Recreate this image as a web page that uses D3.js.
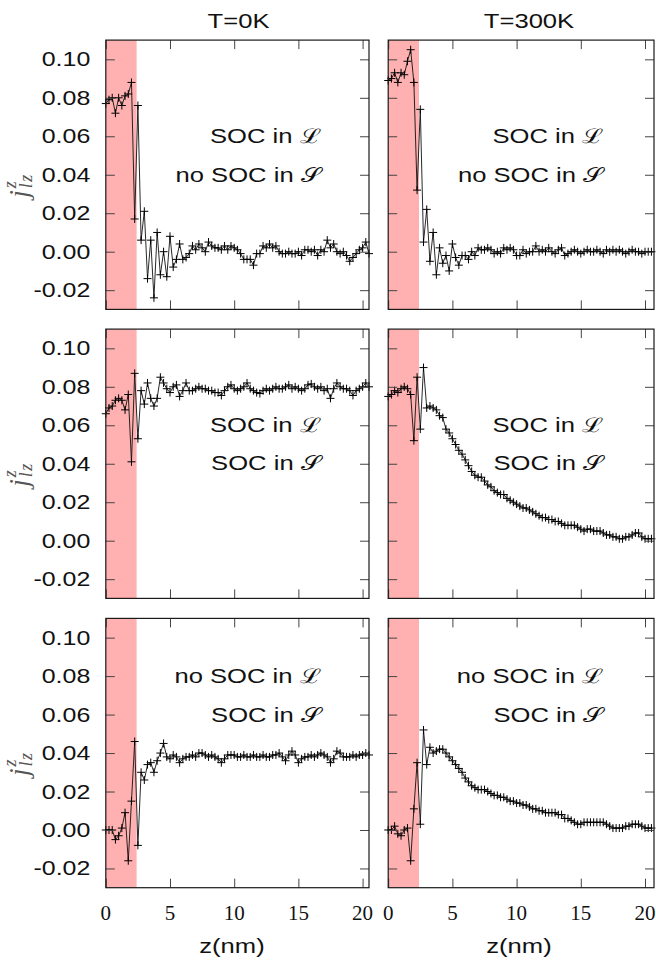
<!DOCTYPE html>
<html><head><meta charset="utf-8">
<script src="https://cdn.jsdelivr.net/npm/d3@7"></script>
<style>body{margin:0;background:#fff}</style>
</head><body><svg id="c" width="656" height="960"></svg>
<script>
// ---------------- data ----------------
const z = [0,0.25,0.5,0.75,1,1.25,1.5,1.75,2,2.25,2.5,2.75,3,3.25,3.5,3.75,4,4.25,4.5,4.75,
  5,5.25,5.5,5.75,6,6.25,6.5,6.75,7,7.25,7.5,7.75,8,8.25,8.5,8.75,9,9.25,9.5,9.75,
  10,10.25,10.5,10.75,11,11.25,11.5,11.75,12,12.25,12.5,12.75,13,13.25,13.5,13.75,14,14.25,14.5,14.75,
  15,15.25,15.5,15.75,16,16.25,16.5,16.75,17,17.25,17.5,17.75,18,18.25,18.5,18.75,19,19.25,19.5,19.75,
  20,20.25,20.5];

// T=0K, SOC in L, no SOC in S
const jSocL_0K = [0.077,0.079,0.080,0.072,0.080,0.076,0.081,0.082,0.088,0.017,0.076,0.006,0.021,-0.014,0.006,-0.024,0.010,-0.012,0.000,-0.013,
  0.008,-0.008,-0.004,0.004,-0.004,-0.003,-0.001,0.003,0.001,0.004,0.002,0.000,0.005,0.003,0.002,0.002,0.001,0.003,0.001,0.003,
  0.002,0.001,-0.001,-0.004,-0.004,-0.004,-0.007,-0.001,-0.001,0.003,0.002,0.004,0.002,0.003,0.000,-0.001,-0.001,0.000,-0.001,-0.001,
  0.000,-0.002,0.001,0.001,0.000,0.001,-0.002,0.001,0.000,0.006,0.002,0.004,0.000,-0.001,0.000,-0.002,-0.005,-0.003,-0.001,0.001,
  0.002,0.005,-0.001];
// T=300K, SOC in L, no SOC in S
const jSocL_300K = [0.089,0.090,0.093,0.088,0.093,0.092,0.099,0.105,0.088,0.032,0.074,0.005,0.022,-0.005,0.010,-0.012,0.002,-0.006,-0.002,-0.010,
  0.004,-0.003,-0.007,-0.002,-0.002,-0.004,0.000,-0.002,0.002,0.001,0.001,0.002,0.001,-0.001,0.000,-0.001,0.002,0.001,0.002,0.001,
  -0.002,-0.002,0.001,-0.001,0.000,0.000,0.003,0.000,0.001,0.000,0.002,0.000,-0.001,0.001,0.002,-0.002,-0.001,0.000,0.001,0.000,
  -0.001,0.000,0.001,0.000,0.000,0.001,0.000,-0.001,0.001,0.000,0.001,0.000,0.001,0.000,-0.001,0.000,0.001,0.000,0.000,-0.001,
  0.000,0.000,0.000];
// T=0K, SOC in L and S
const jSocLS_0K = [0.066,0.069,0.070,0.073,0.074,0.073,0.068,0.076,0.041,0.087,0.053,0.078,0.071,0.082,0.074,0.070,0.074,0.085,0.082,0.079,
  0.077,0.080,0.081,0.075,0.078,0.082,0.078,0.078,0.079,0.080,0.079,0.079,0.078,0.078,0.077,0.077,0.0755,0.078,0.080,0.081,
  0.079,0.078,0.079,0.080,0.082,0.079,0.078,0.077,0.0765,0.078,0.079,0.078,0.079,0.080,0.079,0.079,0.080,0.081,0.079,0.080,
  0.079,0.078,0.079,0.081,0.0815,0.080,0.079,0.080,0.078,0.079,0.074,0.079,0.082,0.080,0.079,0.079,0.078,0.0755,0.078,0.079,
  0.080,0.082,0.080];
// T=300K, SOC in L and S
const jSocLS_300K = [0.075,0.076,0.078,0.077,0.079,0.080,0.079,0.076,0.052,0.085,0.058,0.090,0.069,0.070,0.069,0.068,0.065,0.064,0.058,0.056,
  0.053,0.050,0.047,0.045,0.042,0.039,0.036,0.034,0.033,0.033,0.031,0.029,0.028,0.026,0.025,0.024,0.024,0.022,0.021,0.020,
  0.019,0.018,0.017,0.017,0.016,0.015,0.014,0.013,0.012,0.012,0.011,0.011,0.010,0.010,0.009,0.008,0.008,0.008,0.008,0.007,
  0.006,0.005,0.006,0.006,0.005,0.005,0.005,0.004,0.003,0.003,0.002,0.002,0.001,0.001,0.002,0.002,0.003,0.004,0.004,0.002,
  0.001,0.001,0.001];
// T=0K, no SOC in L, SOC in S
const jSocS_0K = [0.000,0.000,0.000,-0.005,-0.003,0.001,0.009,-0.016,0.015,0.046,-0.008,0.030,0.026,0.034,0.035,0.030,0.036,0.040,0.045,0.038,
  0.037,0.039,0.038,0.035,0.037,0.038,0.038,0.039,0.038,0.040,0.040,0.039,0.038,0.039,0.038,0.037,0.035,0.037,0.039,0.039,
  0.039,0.038,0.038,0.039,0.038,0.038,0.039,0.038,0.038,0.039,0.038,0.038,0.039,0.039,0.040,0.038,0.036,0.039,0.041,0.039,
  0.035,0.037,0.038,0.038,0.039,0.038,0.039,0.040,0.039,0.038,0.035,0.037,0.041,0.040,0.038,0.038,0.038,0.039,0.038,0.039,
  0.039,0.040,0.039];
// T=300K, no SOC in L, SOC in S
const jSocS_300K = [0.000,0.000,0.002,-0.002,-0.003,0.000,0.001,-0.016,0.011,0.035,0.003,0.052,0.034,0.043,0.040,0.041,0.042,0.042,0.040,0.038,
  0.036,0.034,0.032,0.030,0.027,0.025,0.023,0.022,0.021,0.021,0.021,0.020,0.019,0.018,0.018,0.017,0.017,0.016,0.015,0.015,
  0.014,0.014,0.013,0.013,0.012,0.011,0.011,0.010,0.010,0.009,0.009,0.009,0.009,0.008,0.008,0.006,0.006,0.005,0.004,0.003,
  0.003,0.004,0.004,0.004,0.004,0.004,0.004,0.004,0.003,0.002,0.001,0.001,0.001,0.001,0.002,0.002,0.003,0.003,0.003,0.002,
  0.001,0.001,0.001];

const columnTitles = ["T=0K", "T=300K"];
const rowNotes = [["SOC in \u2112", "no SOC in \uD835\uDCAE"],
                  ["SOC in \u2112", "SOC in \uD835\uDCAE"],
                  ["no SOC in \u2112", "SOC in \uD835\uDCAE"]];
const yTickValues = [-0.02, 0, 0.02, 0.04, 0.06, 0.08, 0.10];
const yTickLabels = ["-0.02", "0.00", "0.02", "0.04", "0.06", "0.08", "0.10"];
const xTickValues = [0, 5, 10, 15, 20];
const xTickLabels = ["0", "5", "10", "15", "20"];
const leadRegion = [0, 2.4];
const xLabel = "z(nm)";

const panelSeries = [[jSocL_0K, jSocL_300K], [jSocLS_0K, jSocLS_300K], [jSocS_0K, jSocS_300K]];

// ---------------- layout ----------------
const cols = [{x0: 105.8, x1: 369, zmax: 20.5, titleX: 238.5, labelX: 232},
              {x0: 388.2, x1: 654, zmax: 20.7, titleX: 529, labelX: 519}];
const rows = [{top: 40.1, bottom: 309.4, note: [-109, -70]},
              {top: 329.1, bottom: 598.4, note: [-109, -70.5]},
              {top: 618.4, bottom: 887.7, note: [-147, -108]}];
const SX = 1.28; // horizontal stretch of the sans text in the reference
const sans = "'Liberation Sans', Arial, Helvetica, sans-serif";
const serif = "'Liberation Serif', 'Times New Roman', serif";

const svg = d3.select("#c");

rows.forEach((r, ri) => {
  cols.forEach((c, ci) => {
    const x = d3.scaleLinear().domain([0, c.zmax]).range([c.x0, c.x1]);
    const y = d3.scaleLinear().domain([-0.03, 0.11]).range([r.bottom, r.top]);
    const g = svg.append("g");
    const vals = panelSeries[ri][ci];
    const pts = z.map((d, i) => [d, vals[i]]);

    // lead region band
    g.append("rect")
      .attr("x", x(leadRegion[0])).attr("y", r.top)
      .attr("width", x(leadRegion[1]) - x(leadRegion[0]))
      .attr("height", r.bottom - r.top)
      .attr("fill", "#ffb0b0");

    // line
    g.append("path").datum(pts)
      .attr("fill", "none").attr("stroke", "#111").attr("stroke-width", 0.9)
      .attr("d", d3.line().x(d => x(d[0])).y(d => y(d[1])));

    // crosses
    g.selectAll("path.pt").data(pts).join("path").attr("class", "pt")
      .attr("transform", d => `translate(${x(d[0])},${y(d[1])})`)
      .attr("d", "M-4,0H4M0,-4V4")
      .attr("stroke", "#000").attr("stroke-width", 1).attr("fill", "none");

    // ticks (inside)
    const tk = sel => { sel.select(".domain").remove(); sel.selectAll("line").attr("stroke", "#444"); sel.selectAll("text").remove(); };
    g.append("g").attr("transform", `translate(${c.x0},0)`)
      .call(d3.axisLeft(y).tickValues(yTickValues).tickSize(-9).tickFormat("")).call(tk);
    g.append("g").attr("transform", `translate(${c.x1},0)`)
      .call(d3.axisRight(y).tickValues(yTickValues).tickSize(-9).tickFormat("")).call(tk);
    g.append("g").attr("transform", `translate(0,${r.bottom})`)
      .call(d3.axisBottom(x).tickValues(xTickValues).tickSize(-9).tickFormat("")).call(tk);
    g.append("g").attr("transform", `translate(0,${r.top})`)
      .call(d3.axisTop(x).tickValues(xTickValues).tickSize(-9).tickFormat("")).call(tk);

    // frame
    g.append("rect").attr("x", c.x0).attr("y", r.top)
      .attr("width", c.x1 - c.x0).attr("height", r.bottom - r.top)
      .attr("fill", "none").attr("stroke", "#1a1a1a").attr("stroke-width", 1.2);

    // notes
    rowNotes[ri].forEach((t, k) => {
      g.append("text")
        .attr("transform", `translate(${c.x0 + 215},${y(0) + r.note[k]}) scale(${SX},1)`)
        .attr("text-anchor", "end").attr("font-family", sans).attr("font-size", 20)
        .attr("fill", "#111").text(t);
    });

    // y tick labels (left column only)
    if (ci === 0) {
      yTickValues.forEach((v, k) => {
        g.append("text")
          .attr("transform", `translate(${c.x0 - 15.5},${y(v) + 7}) scale(${SX},1)`)
          .attr("text-anchor", "end").attr("font-family", sans).attr("font-size", 19.5)
          .attr("fill", "#111").text(yTickLabels[k]);
      });
      // y axis label j^z_{lz}
      const lab = g.append("text")
        .attr("transform", `translate(28,${(r.top + r.bottom) / 2 + 23}) rotate(-90)`)
        .attr("text-anchor", "start").attr("font-family", serif).attr("font-style", "italic")
        .attr("fill", "#555");
      lab.append("tspan").attr("font-size", 27).text("j");
      lab.append("tspan").attr("font-size", 18).attr("dx", 2).attr("dy", -12).text("z");
      lab.append("tspan").attr("font-size", 18).attr("dx", -7).attr("dy", 16)
        .attr("letter-spacing", 1.5).text("lz");
    }

    // x tick labels + x label (bottom row only)
    if (ri === rows.length - 1) {
      xTickValues.forEach((v, k) => {
        g.append("text").attr("x", x(v)).attr("y", 919.5)
          .attr("text-anchor", "middle").attr("font-family", serif).attr("font-size", 21)
          .attr("fill", "#111").text(xTickLabels[k]);
      });
      g.append("text")
        .attr("transform", `translate(${c.labelX},953) scale(${SX},1)`)
        .attr("text-anchor", "middle").attr("font-family", sans).attr("font-size", 20)
        .attr("fill", "#111").text(xLabel);
    }

    // column titles (top row only)
    if (ri === 0) {
      g.append("text")
        .attr("transform", `translate(${c.titleX},28.3) scale(${SX},1)`)
        .attr("text-anchor", "middle").attr("font-family", sans).attr("font-size", 20)
        .attr("fill", "#111").text(columnTitles[ci]);
    }
  });
});
</script>
</body></html>
